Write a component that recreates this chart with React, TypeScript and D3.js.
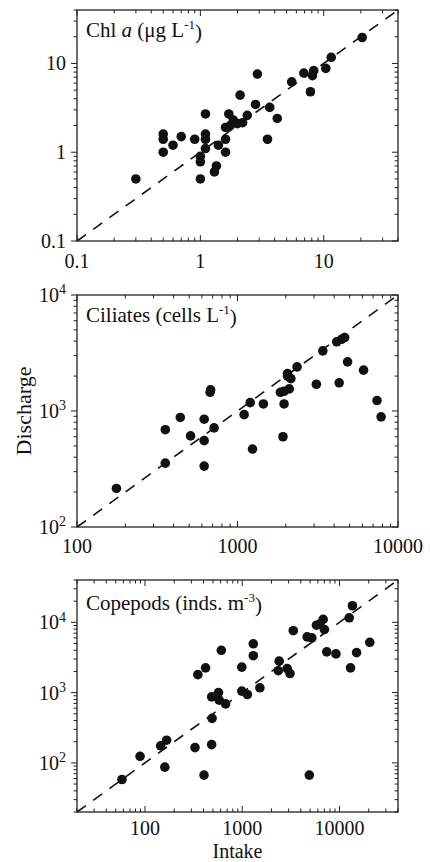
import React from "react";
import * as d3 from "d3";

// ---------- DATA ----------
// Panel 1: Chl a (µg L-1) — [intake, discharge]
const chlIntake = [20.5, 11.5, 10.4, 8.3, 8.1, 6.9, 5.5, 7.8, 2.9, 2.1, 2.8, 3.65, 4.2, 1.1, 1.7, 1.85, 2.4, 2.2, 2.0, 1.6, 1.75,
  0.5, 0.5, 0.5, 0.6, 0.7, 0.9, 1.1, 1.1, 1.1, 1.0, 1.0, 1.0, 1.4, 1.6, 1.6, 1.35, 1.3, 0.3, 3.5];
const chlDischarge = [19.6, 11.7, 8.8, 8.3, 7.3, 7.8, 6.2, 4.8, 7.6, 4.4, 3.45, 3.2, 2.4, 2.7, 2.7, 2.3, 2.6, 2.15, 2.1, 1.9, 2.0,
  1.6, 1.4, 1.0, 1.2, 1.5, 1.4, 1.6, 1.4, 1.1, 0.9, 0.78, 0.5, 1.2, 1.4, 1.0, 0.7, 0.6, 0.5, 1.4];

// Panel 2: Ciliates (cells L-1)
const ciliatesIntake = [4150, 4450, 4650, 3400, 4850, 6100, 4300, 3100, 2350, 2050, 2150, 2050, 2100, 1850, 1950, 1950, 1450, 1200, 1100,
  675, 680, 620, 440, 715, 355, 7400, 7850, 510, 620, 355, 620, 176, 1240, 1920];
const ciliatesDischarge = [3950, 4150, 4300, 3300, 2650, 2250, 1750, 1700, 2400, 2100, 1900, 2000, 1550, 1450, 1480, 1150, 1150, 1180, 930,
  1450, 1520, 850, 880, 715, 690, 1230, 890, 610, 555, 355, 335, 215, 470, 600];

// Panel 3: Copepods (inds. m-3)
const copepodsIntake = [13600, 12600, 20500, 15000, 13000, 9200, 7400, 6800, 7000, 5800, 6300, 4650, 5200, 3350, 2400, 2350, 2900, 3100,
  1520, 990, 1130, 990, 1300, 1300, 610, 420, 350, 570, 485, 580, 675, 490, 167, 145, 327, 485, 89, 160, 58, 405, 4900];
const copepodsDischarge = [17200, 11600, 5200, 3700, 2250, 3550, 3800, 11000, 7900, 9100, 9500, 6200, 6000, 7600, 2800, 2050, 2200, 1870,
  1170, 1050, 940, 2300, 4950, 3350, 4000, 2250, 1800, 1000, 870, 780, 690, 430, 210, 175, 165, 182, 124, 87, 58, 67, 67];

// Tick labels
const chlTicks = [0.1, 1, 10];
const chlTickLabels = ["0.1", "1", "10"];
const ciliatesTicks = [100, 1000, 10000];
const ciliatesXTickLabels = ["100", "1000", "10000"];
const copepodsXTicks = [100, 1000, 10000];
const copepodsXTickLabels = ["100", "1000", "10000"];
const powerYTicks = [100, 1000, 10000];
const powerYExponents = ["2", "3", "4"];

const xTitle = "Intake";
const yTitle = "Discharge";

// ---------- LAYOUT ----------
const LEFT = 77;
const RIGHT = 398;
const FONT = "'Liberation Serif', 'Times New Roman', serif";

type Panel = {
  xs: number[];
  ys: number[];
  domain: [number, number];
  top: number;
  bottom: number;
  xTicks: number[];
  xLabels: string[];
  xLabelDy: number;
  yTicks: number[];
  yLabels?: string[];
  yExps?: string[];
  title: React.ReactNode;
  titleDy: number;
};

function minorTicks(lo: number, hi: number) {
  const out: number[] = [];
  for (let e = Math.floor(Math.log10(lo)); e <= Math.ceil(Math.log10(hi)); e++) {
    for (let m = 1; m <= 9; m++) {
      const v = m * Math.pow(10, e);
      if (v >= lo * 0.9999 && v <= hi * 1.0001) out.push(v);
    }
  }
  return out;
}

function PanelView({ p }: { p: Panel }) {
  const x = d3.scaleLog().domain(p.domain).range([LEFT, RIGHT]);
  const y = d3.scaleLog().domain(p.domain).range([p.bottom, p.top]);
  const ticks = minorTicks(p.domain[0], p.domain[1]);
  const isMajor = (v: number) => Math.abs(Math.log10(v) - Math.round(Math.log10(v))) < 1e-6;
  const line = d3.line<number>().x((v) => x(v)).y((v) => y(v));
  const stroke = "#222";
  return (
    <g>
      {/* diagonal 1:1 */}
      <path d={line(p.domain) || ""} stroke="#111" strokeWidth={1.6} strokeDasharray="11,9" fill="none" />
      {/* points */}
      {p.xs.map((v, i) => (
        <circle key={i} cx={x(v)} cy={y(p.ys[i])} r={4.8} fill="#111" />
      ))}
      {/* frame */}
      <rect x={LEFT} y={p.top} width={RIGHT - LEFT} height={p.bottom - p.top} fill="none" stroke={stroke} strokeWidth={1.3} />
      {/* ticks */}
      {ticks.map((v, i) => {
        const L = isMajor(v) ? 6 : 3.5;
        const xv = x(v);
        const yv = y(v);
        return (
          <g key={i} stroke={stroke} strokeWidth={1}>
            <line x1={xv} x2={xv} y1={p.bottom} y2={p.bottom - L} />
            <line x1={xv} x2={xv} y1={p.top} y2={p.top + L} />
            <line x1={LEFT} x2={LEFT - L} y1={yv} y2={yv} />
            <line x1={RIGHT} x2={RIGHT - L} y1={yv} y2={yv} />
          </g>
        );
      })}
      {/* x tick labels */}
      {p.xTicks.map((v, i) => (
        <text key={i} x={x(v)} y={p.bottom + p.xLabelDy} textAnchor="middle" fontSize={20} fontFamily={FONT} fill="#111">
          {p.xLabels[i]}
        </text>
      ))}
      {/* y tick labels */}
      {p.yTicks.map((v, i) => (
        <text key={i} x={66} y={y(v)} dy="0.35em" textAnchor="end" fontSize={20} fontFamily={FONT} fill="#111">
          {p.yLabels ? (
            p.yLabels[i]
          ) : (
            <>
              10
              <tspan fontSize={14} dy="-0.55em">{p.yExps ? p.yExps[i] : ""}</tspan>
            </>
          )}
        </text>
      ))}
      {/* title */}
      <text x={LEFT + 9} y={p.top + p.titleDy} fontSize={21} fontFamily={FONT} fill="#111">
        {p.title}
      </text>
    </g>
  );
}

export default function App() {
  const panels: Panel[] = [
    {
      xs: chlIntake,
      ys: chlDischarge,
      domain: [0.1, 40],
      top: 10,
      bottom: 241,
      xTicks: chlTicks,
      xLabels: chlTickLabels,
      xLabelDy: 27,
      yTicks: chlTicks,
      yLabels: chlTickLabels,
      title: (
        <>
          Chl <tspan fontStyle="italic">a</tspan> (μg L<tspan fontSize={13} dy="-0.6em">-1</tspan>
          <tspan dy="0.45em">)</tspan>
        </>
      ),
      titleDy: 27,
    },
    {
      xs: ciliatesIntake,
      ys: ciliatesDischarge,
      domain: [100, 10000],
      top: 295,
      bottom: 527,
      xTicks: ciliatesTicks,
      xLabels: ciliatesXTickLabels,
      xLabelDy: 26,
      yTicks: powerYTicks,
      yExps: powerYExponents,
      title: (
        <>
          Ciliates (cells L<tspan fontSize={13} dy="-0.6em">-1</tspan>
          <tspan dy="0.45em">)</tspan>
        </>
      ),
      titleDy: 27,
    },
    {
      xs: copepodsIntake,
      ys: copepodsDischarge,
      domain: [20, 40000],
      top: 580,
      bottom: 812,
      xTicks: copepodsXTicks,
      xLabels: copepodsXTickLabels,
      xLabelDy: 23,
      yTicks: powerYTicks,
      yExps: powerYExponents,
      title: (
        <>
          Copepods (inds. m<tspan fontSize={13} dy="-0.6em">-3</tspan>
          <tspan dy="0.45em">)</tspan>
        </>
      ),
      titleDy: 30,
    },
  ];
  return (
    <svg width={430} height={862} style={{ position: "absolute", left: 0, top: 0, background: "#fff" }}>
      <rect width={430} height={862} fill="#fff" />
      {panels.map((p, i) => (
        <PanelView key={i} p={p} />
      ))}
      <text x={237.5} y={857.5} textAnchor="middle" fontSize={20} fontFamily={FONT} fill="#111">
        {xTitle}
      </text>
      <text transform="translate(31,411) rotate(-90)" textAnchor="middle" fontSize={22} fontFamily={FONT} fill="#111">
        {yTitle}
      </text>
    </svg>
  );
}
